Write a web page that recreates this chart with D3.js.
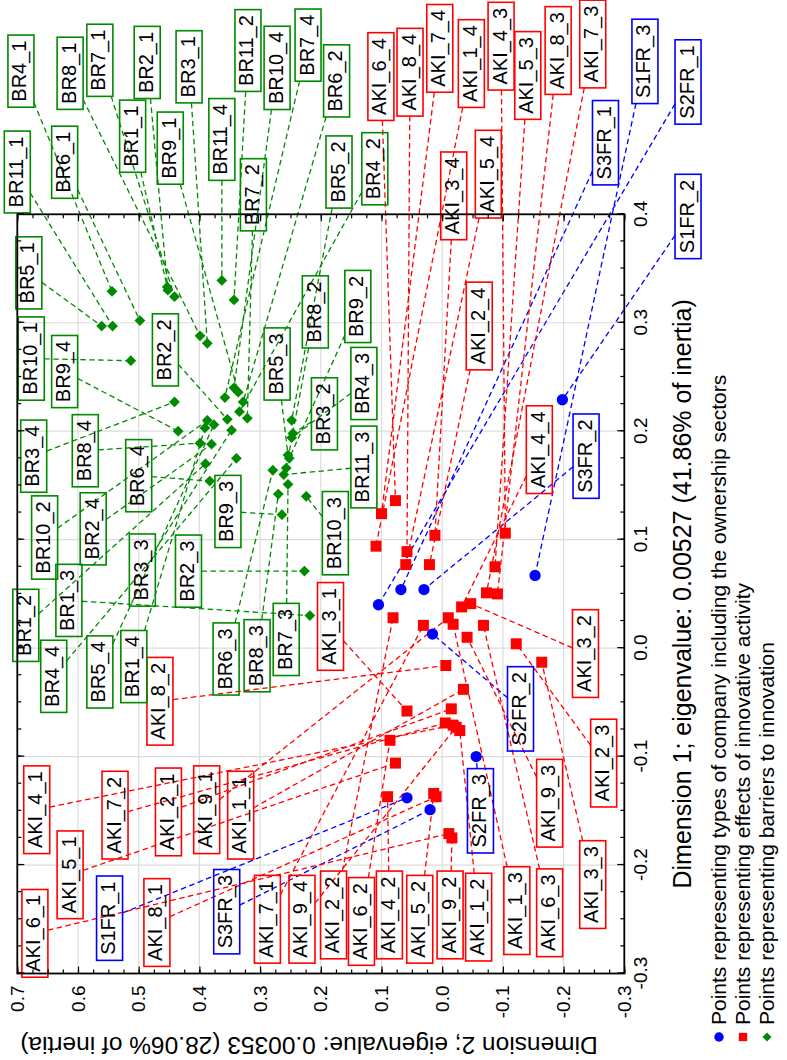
<!DOCTYPE html>
<html>
<head>
<meta charset="utf-8">
<script src="https://cdn.jsdelivr.net/npm/d3@7"></script>
<style>
  body { margin: 0; background: #fff; }
  svg { display: block; font-family: "Liberation Sans", Arial, sans-serif; }
</style>
</head>
<body>
<svg id="chart" width="787" height="1060"></svg>
<script>
// ---- data (Dimension 1, Dimension 2 coordinates) ----
const companyNames = ["S1FR_1","S1FR_2","S1FR_3","S2FR_1","S2FR_2","S2FR_3","S3FR_1","S3FR_2","S3FR_3"];
const companyDim1 = [-0.138, 0.229, 0.067, 0.040, 0.013, -0.100, 0.054, 0.054, -0.149];
const companyDim2 = [0.058, -0.198, -0.153, 0.105, 0.016, -0.056, 0.068, 0.030, 0.020];

const effectNames = [
  "AKI_1_1","AKI_2_1","AKI_3_1","AKI_4_1","AKI_5_1","AKI_6_1","AKI_7_1","AKI_8_1","AKI_9_1",
  "AKI_1_2","AKI_2_2","AKI_3_2","AKI_4_2","AKI_5_2","AKI_6_2","AKI_7_2","AKI_8_2","AKI_9_2",
  "AKI_1_3","AKI_2_3","AKI_3_3","AKI_4_3","AKI_5_3","AKI_6_3","AKI_7_3","AKI_8_3","AKI_9_3",
  "AKI_1_4","AKI_2_4","AKI_3_4","AKI_4_4","AKI_5_4","AKI_6_4","AKI_7_4","AKI_8_4","AKI_9_4"];
const effectDim1 = [
  -0.038, -0.056, -0.058, -0.071, -0.106, -0.171, 0.021, -0.137, 0.028,
  -0.076, 0.028, 0.041, -0.137, -0.134, -0.085, -0.069, -0.016, -0.175,
  0.022, 0.004, -0.013, 0.106, 0.075, 0.021, 0.051, 0.050, 0.010,
  0.094, 0.077, 0.104, 0.038, 0.077, 0.136, 0.124, 0.089, -0.073];
const effectDim2 = [
  -0.035, -0.015, 0.058, -0.018, 0.077, -0.011, 0.031, 0.010, -0.010,
  -0.029, 0.081, -0.047, 0.090, 0.014, 0.086, -0.005, -0.006, -0.016,
  -0.018, -0.122, -0.164, -0.104, -0.087, -0.068, -0.073, -0.091, -0.041,
  0.109, 0.021, 0.012, -0.032, 0.060, 0.077, 0.100, 0.058, -0.023];

const barrierNames = [
  "BR1_1","BR2_1","BR3_1","BR4_1","BR5_1","BR6_1","BR7_1","BR8_1","BR9_1","BR10_1","BR11_1",
  "BR1_2","BR2_2","BR3_2","BR4_2","BR5_2","BR6_2","BR7_2","BR8_2","BR9_2","BR10_2","BR11_2",
  "BR1_3","BR2_3","BR3_3","BR4_3","BR5_3","BR6_3","BR7_3","BR8_3","BR9_3","BR10_3","BR11_3",
  "BR1_4","BR2_4","BR3_4","BR4_4","BR5_4","BR6_4","BR7_4","BR8_4","BR9_4","BR10_4","BR11_4"];
const barrierDim1 = [
  0.333, 0.330, 0.281, 0.329, 0.297, 0.302, 0.324, 0.288, 0.236, 0.265, 0.297,
  0.170, 0.211, 0.198, 0.218, 0.210, 0.227, 0.212, 0.166, 0.175, 0.210, 0.321,
  0.030, 0.071, 0.201, 0.194, 0.178, 0.164, 0.151, 0.142, 0.123, 0.140, 0.160,
  0.203, 0.188, 0.227, 0.175, 0.206, 0.154, 0.231, 0.189, 0.200, 0.240, 0.339];
const barrierDim2 = [
  0.453, 0.452, 0.387, 0.544, 0.561, 0.498, 0.441, 0.399, 0.336, 0.513, 0.543,
  0.390, 0.354, 0.246, 0.334, 0.248, 0.328, 0.321, 0.257, 0.252, 0.387, 0.343,
  0.218, 0.227, 0.347, 0.248, 0.254, 0.279, 0.254, 0.270, 0.264, 0.224, 0.261,
  0.391, 0.380, 0.441, 0.339, 0.376, 0.383, 0.358, 0.399, 0.435, 0.343, 0.363];

// ---- label placement (same coordinate system) ----
const companyLabelDim1 = [-0.249, 0.398, 0.541, 0.522, -0.056, -0.150, 0.466, 0.177, -0.243];
const companyLabelDim2 = [0.548, -0.405, -0.334, -0.405, -0.129, -0.063, -0.269, -0.237, 0.355];
const effectLabelDim1 = [
  -0.154, -0.151, 0.020, -0.149, -0.209, -0.263, -0.250, -0.253, -0.149,
  -0.248, -0.246, -0.005, -0.246, -0.250, -0.252, -0.154, -0.049, -0.246,
  -0.242, -0.106, -0.218, 0.555, 0.528, -0.244, 0.557, 0.551, -0.143,
  0.539, 0.297, 0.417, 0.183, 0.437, 0.527, 0.553, 0.531, -0.250];
const effectLabelDim2 = [
  0.332, 0.451, 0.184, 0.668, 0.613, 0.671, 0.288, 0.470, 0.388,
  -0.060, 0.179, -0.236, 0.087, 0.037, 0.133, 0.539, 0.465, -0.013,
  -0.123, -0.266, -0.248, -0.097, -0.141, -0.177, -0.248, -0.191, -0.177,
  -0.048, -0.061, -0.019, -0.160, -0.076, 0.101, 0.004, 0.053, 0.231];
const barrierLabelDim1 = [
  0.472, 0.540, 0.536, 0.532, 0.346, 0.448, 0.542, 0.530, 0.461, 0.267, 0.439,
  0.021, 0.275, 0.216, 0.442, 0.439, 0.523, 0.418, 0.310, 0.315, 0.102, 0.551,
  0.044, 0.071, 0.072, 0.244, 0.262, -0.010, 0.008, -0.007, 0.126, 0.106, 0.167,
  -0.017, 0.110, 0.177, -0.026, -0.022, 0.159, 0.556, 0.182, 0.255, 0.535, 0.469];
const barrierLabelDim2 = [
  0.510, 0.486, 0.417, 0.694, 0.681, 0.622, 0.564, 0.613, 0.448, 0.677, 0.700,
  0.686, 0.456, 0.194, 0.111, 0.170, 0.174, 0.311, 0.209, 0.139, 0.655, 0.320,
  0.615, 0.418, 0.494, 0.129, 0.272, 0.356, 0.257, 0.305, 0.353, 0.176, 0.129,
  0.508, 0.575, 0.673, 0.640, 0.564, 0.500, 0.221, 0.588, 0.622, 0.272, 0.363];

const dim1Ticks = [-0.3, -0.2, -0.1, 0.0, 0.1, 0.2, 0.3, 0.4];
const dim2Ticks = [-0.3, -0.2, -0.1, 0.0, 0.1, 0.2, 0.3, 0.4, 0.5, 0.6, 0.7];

const legendItems = [
  "Points representing types of company including the ownership sectors",
  "Points representing effects of innovative activity",
  "Points representing barriers to innovation"];

// ---- layout: chart is drawn in landscape and turned 90deg ----
const svg = d3.select("#chart");
const g = svg.append("g").attr("transform", "translate(0,1060) rotate(-90)");

const x = d3.scaleLinear().domain([-0.3, 0.4]).range([86.5, 845.7]);
const y = d3.scaleLinear().domain([-0.3, 0.7]).range([624.3, 17.3]);
const [x0, x1] = x.range(), [y1, y0] = y.range();

const fmt = d => d.toFixed(1);
const minor1 = d3.range(-0.3, 0.4001, 0.025);
const minor2 = d3.range(-0.3, 0.7001, 0.025);

// grid
g.append("g").selectAll("line").data(dim1Ticks.slice(1, -1)).join("line")
  .attr("x1", d => x(d)).attr("x2", d => x(d)).attr("y1", y0).attr("y2", y1)
  .attr("stroke", "#dcdcdc").attr("stroke-width", 1.2);
g.append("g").selectAll("line").data(dim2Ticks.slice(1, -1)).join("line")
  .attr("y1", d => y(d)).attr("y2", d => y(d)).attr("x1", x0).attr("x2", x1)
  .attr("stroke", "#dcdcdc").attr("stroke-width", 1.2);

// series definitions
const series = [
  { names: companyNames, d1: companyDim1, d2: companyDim2, l1: companyLabelDim1, l2: companyLabelDim2, color: "#0000ff", shape: "circle" },
  { names: effectNames, d1: effectDim1, d2: effectDim2, l1: effectLabelDim1, l2: effectLabelDim2, color: "#ff0000", shape: "square" },
  { names: barrierNames, d1: barrierDim1, d2: barrierDim2, l1: barrierLabelDim1, l2: barrierLabelDim2, color: "#008a00", shape: "diamond" }
];

const lineLayer = g.append("g");
const labelLayer = g.append("g");
const pointLayer = g.append("g");

function edge(d) {
  const dx = d.px - d.lx, dy = d.py - d.ly;
  const t = Math.min(d.hw / Math.abs(dx || 1e-9), d.hh / Math.abs(dy || 1e-9), 1);
  return [d.lx + dx * t, d.ly + dy * t];
}

series.forEach(s => {
  const rows = s.names.map((n, i) => ({ name: n, px: x(s.d1[i]), py: y(s.d2[i]), lx: x(s.l1[i]), ly: y(s.l2[i]) }));

  const lab = labelLayer.append("g").selectAll("g").data(rows).join("g")
    .attr("transform", d => `translate(${d.lx},${d.ly})`);
  const txt = lab.append("text").attr("text-anchor", "middle").attr("y", 5.5)
    .attr("font-size", 20).attr("fill", "#000").text(d => d.name);
  txt.each(function (d) { d.hw = this.getComputedTextLength() / 2 + 5.5; d.hh = 13; });
  lab.insert("rect", "text")
    .attr("x", d => -d.hw).attr("y", d => -d.hh)
    .attr("width", d => 2 * d.hw).attr("height", d => 2 * d.hh)
    .attr("fill", "none").attr("stroke", s.color).attr("stroke-width", 1.6);

  // leader line from box edge to point
  lineLayer.append("g").selectAll("line").data(rows).join("line")
    .attr("x1", d => edge(d)[0]).attr("y1", d => edge(d)[1])
    .attr("x2", d => d.px).attr("y2", d => d.py)
    .attr("stroke", s.color).attr("stroke-width", 1.3).attr("stroke-dasharray", "5.5,3.5");

  const pts = pointLayer.append("g").selectAll("path").data(rows).join("path")
    .attr("fill", s.color)
    .attr("transform", d => `translate(${d.px},${d.py})` + (s.shape === "diamond" ? " rotate(45)" : ""));
  if (s.shape === "circle") pts.attr("d", d3.symbol(d3.symbolCircle, 100)());
  else if (s.shape === "square") pts.attr("d", d3.symbol(d3.symbolSquare, 121)());
  else pts.attr("d", d3.symbol(d3.symbolSquare, 58)());
});

// axes (ticks inside the frame)
const axes = g.append("g");
axes.append("g").attr("transform", `translate(0,${y1})`)
  .call(d3.axisBottom(x).tickValues(minor1).tickSize(-4).tickFormat(""));
axes.append("g").attr("transform", `translate(0,${y1})`)
  .call(d3.axisBottom(x).tickValues(dim1Ticks).tickSizeInner(-7).tickSizeOuter(0).tickPadding(9).tickFormat(fmt));
axes.append("g").attr("transform", `translate(0,${y0})`)
  .call(d3.axisTop(x).tickValues(minor1).tickSize(-4).tickFormat(""));
axes.append("g").attr("transform", `translate(0,${y0})`)
  .call(d3.axisTop(x).tickValues(dim1Ticks).tickSize(-7).tickFormat(""));
axes.append("g").attr("transform", `translate(${x0},0)`)
  .call(d3.axisLeft(y).tickValues(minor2).tickSize(-4).tickFormat(""));
axes.append("g").attr("transform", `translate(${x0},0)`)
  .call(d3.axisLeft(y).tickValues(dim2Ticks).tickSizeInner(-7).tickSizeOuter(0).tickPadding(12).tickFormat(fmt));
axes.append("g").attr("transform", `translate(${x1},0)`)
  .call(d3.axisRight(y).tickValues(minor2).tickSize(-4).tickFormat(""));
axes.append("g").attr("transform", `translate(${x1},0)`)
  .call(d3.axisRight(y).tickValues(dim2Ticks).tickSize(-7).tickFormat(""));
axes.selectAll(".domain").remove();
axes.selectAll("line").attr("stroke", "#000").attr("stroke-width", 1.2);
axes.selectAll("g").attr("font-size", null).attr("font-family", null);
axes.selectAll("text").attr("fill", "#000").attr("font-size", 19);

g.append("rect").attr("x", x0).attr("y", y0).attr("width", x1 - x0).attr("height", y1 - y0)
  .attr("fill", "none").attr("stroke", "#000").attr("stroke-width", 1.8);

// axis titles
g.append("text").attr("x", (x0 + x1) / 2).attr("y", 691).attr("text-anchor", "middle")
  .attr("font-size", 25).text("Dimension 1; eigenvalue: 0.00527 (41.86% of inertia)");
g.append("text").attr("transform", `translate(23,309) rotate(-90)`)
  .attr("text-anchor", "middle").attr("font-size", 24.5)
  .text("Dimension 2; eigenvalue: 0.00353 (28.06% of inertia)");

// legend
const leg = g.append("g").selectAll("g").data(legendItems).join("g")
  .attr("transform", (d, i) => `translate(23,${719 + i * 24})`);
leg.append("path")
  .attr("d", (d, i) => d3.symbol(i === 0 ? d3.symbolCircle : d3.symbolSquare, i === 2 ? 40 : 70)())
  .attr("transform", (d, i) => i === 2 ? "rotate(45)" : null)
  .attr("fill", (d, i) => series[i].color);
leg.append("text").attr("x", 12).attr("y", 7).attr("font-size", 21).text(d => d);
</script>
</body>
</html>
